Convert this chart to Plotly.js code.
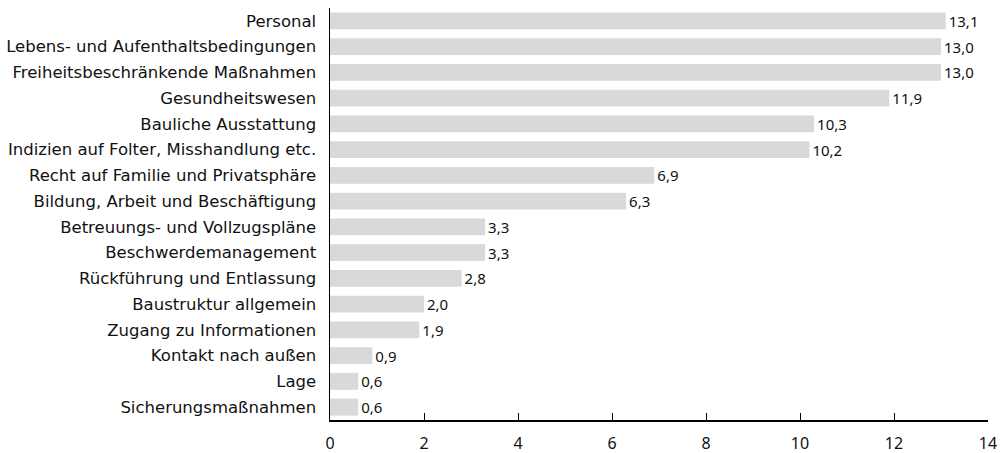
<!DOCTYPE html>
<html><head><meta charset="utf-8">
<script src="https://cdn.plot.ly/plotly-3.0.1.min.js"></script>
<style>body{margin:0;background:#fff}#chart{width:1001px;height:453px}</style>
</head><body><div id="chart"></div>
<script>
const categories = [
  "Personal",
  "Lebens- und Aufenthaltsbedingungen",
  "Freiheitsbeschränkende Maßnahmen",
  "Gesundheitswesen",
  "Bauliche Ausstattung",
  "Indizien auf Folter, Misshandlung etc.",
  "Recht auf Familie und Privatsphäre",
  "Bildung, Arbeit und Beschäftigung",
  "Betreuungs- und Vollzugspläne",
  "Beschwerdemanagement",
  "Rückführung und Entlassung",
  "Baustruktur allgemein",
  "Zugang zu Informationen",
  "Kontakt nach außen",
  "Lage",
  "Sicherungsmaßnahmen"
];
const values = [13.1, 13.0, 13.0, 11.9, 10.3, 10.2, 6.9, 6.3, 3.3, 3.3, 2.8, 2.0, 1.9, 0.9, 0.6, 0.6];
const xTicks = [0, 2, 4, 6, 8, 10, 12, 14];

const labelFont = "DejaVu Sans, Verdana, sans-serif";
const numFont = "Noto Sans, Open Sans, sans-serif";
Plotly.newPlot("chart", [{
  type: "bar",
  orientation: "h",
  x: values,
  y: categories,
  marker: {color: "#d9d9d9"},
  texttemplate: "%{x:.1f}",
  textposition: "outside",
  constraintext: "none",
  cliponaxis: false,
  textfont: {family: numFont, size: 15, color: "#111"},
  hoverinfo: "none"
}], {
  width: 1001, height: 453,
  separators: ",.",
  margin: {l: 330, r: 13, t: 8, b: 33},
  bargap: 0.34,
  paper_bgcolor: "#fff", plot_bgcolor: "#fff",
  showlegend: false,
  xaxis: {
    range: [0, 14], tickvals: xTicks, ticktext: xTicks.map(String),
    ticks: "inside", ticklen: 7, tickcolor: "#000", tickwidth: 1,
    showline: true, linecolor: "#000", linewidth: 1.5,
    showgrid: false, zeroline: false,
    ticklabelstandoff: 8,
    tickfont: {family: numFont, size: 16, color: "#111"}
  },
  yaxis: {
    autorange: "reversed", type: "category",
    showline: true, linecolor: "#000", linewidth: 1.5,
    showgrid: false, zeroline: false, ticks: "",
    ticklabelstandoff: 9,
    tickfont: {family: labelFont, size: 16.5, color: "#111"}
  }
}, {staticPlot: true});
</script></body></html>
